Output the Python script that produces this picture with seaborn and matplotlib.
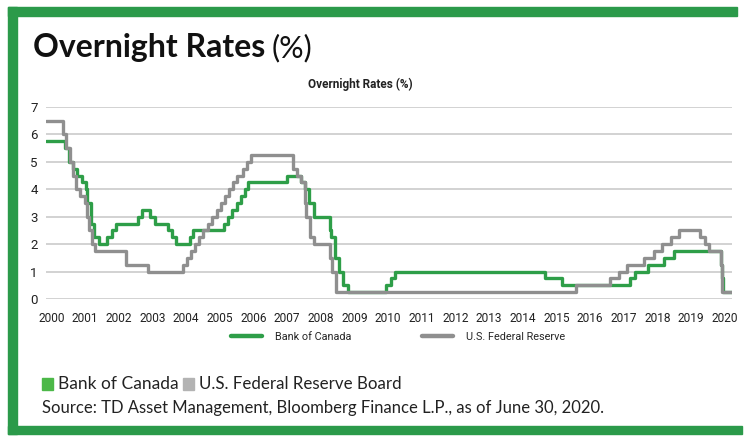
import numpy as np
import pandas as pd
import matplotlib
matplotlib.use("Agg")
import matplotlib.pyplot as plt
import seaborn as sns
from matplotlib.patches import Rectangle
from matplotlib.lines import Line2D

# ---------------- data ----------------
year_labels = [str(y) for y in range(2000, 2021)]
series_names = ["Bank of Canada", "U.S. Federal Reserve"]
end_date = "2020-06-30"

boc_dates = ["2000-06-30", "2001-01-23", "2001-03-06", "2001-04-17", "2001-05-29",
             "2001-07-17", "2001-08-28", "2001-09-17", "2001-10-23", "2001-11-27",
             "2002-01-15", "2002-04-16", "2002-06-04", "2002-07-16", "2003-03-04",
             "2003-04-15", "2003-07-15", "2003-09-03", "2004-01-20", "2004-03-02",
             "2004-04-13", "2004-09-08", "2004-10-19", "2005-09-07", "2005-10-18",
             "2005-12-06", "2006-01-24", "2006-03-07", "2006-04-25", "2006-05-24",
             "2007-07-10", "2007-12-04", "2008-01-22", "2008-03-04", "2008-04-22",
             "2008-10-08", "2008-10-21", "2008-12-09", "2009-01-20", "2009-03-03",
             "2009-04-21", "2010-06-01", "2010-07-20", "2010-09-08", "2015-01-21",
             "2015-07-15", "2017-07-12", "2017-09-06", "2018-01-17", "2018-07-11",
             "2018-10-24", "2020-03-04", "2020-03-16", "2020-03-27"]
boc_rates = [5.75, 5.5, 5.0, 4.75, 4.5,
             4.25, 4.0, 3.5, 2.75, 2.25,
             2.0, 2.25, 2.5, 2.75, 3.0,
             3.25, 3.0, 2.75, 2.5, 2.25,
             2.0, 2.25, 2.5, 2.75, 3.0,
             3.25, 3.5, 3.75, 4.0, 4.25,
             4.5, 4.25, 4.0, 3.5, 3.0,
             2.5, 2.25, 1.5, 1.0, 0.5,
             0.25, 0.5, 0.75, 1.0, 0.75,
             0.5, 0.75, 1.0, 1.25, 1.5,
             1.75, 1.25, 0.75, 0.25]

fed_dates = ["2000-06-30", "2001-01-03", "2001-01-31", "2001-03-20", "2001-04-18",
             "2001-05-15", "2001-06-27", "2001-08-21", "2001-09-17", "2001-10-02",
             "2001-11-06", "2001-12-11", "2002-11-06", "2003-06-25", "2004-06-30",
             "2004-08-10", "2004-09-21", "2004-11-10", "2004-12-14", "2005-02-02",
             "2005-03-22", "2005-05-03", "2005-06-30", "2005-08-09", "2005-09-20",
             "2005-11-01", "2005-12-13", "2006-01-31", "2006-03-28", "2006-05-10",
             "2006-06-29", "2007-09-18", "2007-10-31", "2007-12-11", "2008-01-22",
             "2008-01-30", "2008-03-18", "2008-04-30", "2008-10-08", "2008-10-29",
             "2008-12-16", "2015-12-16", "2016-12-14", "2017-03-15", "2017-06-14",
             "2017-12-13", "2018-03-21", "2018-06-13", "2018-09-26", "2018-12-19",
             "2019-07-31", "2019-09-18", "2019-10-30", "2020-03-03", "2020-03-15"]
fed_rates = [6.5, 6.0, 5.5, 5.0, 4.5,
             4.0, 3.75, 3.5, 3.0, 2.5,
             2.0, 1.75, 1.25, 1.0, 1.25,
             1.5, 1.75, 2.0, 2.25, 2.5,
             2.75, 3.0, 3.25, 3.5, 3.75,
             4.0, 4.25, 4.5, 4.75, 5.0,
             5.25, 4.75, 4.5, 4.25, 3.5,
             3.0, 2.25, 2.0, 1.5, 1.0,
             0.25, 0.5, 0.75, 1.0, 1.25,
             1.5, 1.75, 2.0, 2.25, 2.5,
             2.25, 2.0, 1.75, 1.25, 0.25]

GREEN_LINE = "#2e9e48"
GRAY_LINE = "#8f8f8f"
BORDER = "#2b9a4a"
SQ_GREEN = "#4cb848"
SQ_GRAY = "#b3b3b3"


def dec_year(s):
    d = pd.Timestamp(s)
    n = 366 if d.is_leap_year else 365
    return d.year + (d.dayofyear - 1) / n


frames = []
for name, dts, rts in [(series_names[0], boc_dates, boc_rates),
                       (series_names[1], fed_dates, fed_rates)]:
    t = [dec_year(d) for d in dts] + [dec_year(end_date)]
    r = list(rts) + [rts[-1]]
    frames.append(pd.DataFrame({"t": t, "rate": r, "series": name}))
df = pd.concat(frames, ignore_index=True)

# ---------------- style ----------------
sns.set_style("white")
plt.rcParams["font.family"] = ["Lato", "DejaVu Sans"]
NARROW = ["Roboto", "DejaVu Sans"]

W, H = 750, 446
fig = plt.figure(figsize=(W / 100, H / 100), dpi=100)
fx = lambda px: px / W
fy = lambda py: 1 - py / H

# border
for (x0, y0, x1, y1) in [(8, 7, 737, 16), (8, 7, 17, 434), (8, 426, 742, 434)]:
    fig.patches.append(Rectangle((fx(x0), fy(y1)), (x1 - x0) / W, (y1 - y0) / H,
                                 transform=fig.transFigure, color=BORDER, zorder=0))

# title
t1 = fig.text(fx(33), fy(57), "Overnight Rates", fontsize=23, fontweight="bold",
              color="#111111", va="baseline", ha="left")
fig.canvas.draw()
bb = t1.get_window_extent()
fig.text((bb.x1 + 6) / W, fy(57), "(%)", fontsize=22, fontweight="normal",
         color="#111111", va="baseline", ha="left")

# axes
ax = fig.add_axes([fx(46), fy(299), (732 - 46) / W, (299 - 107) / H])
sns.lineplot(data=df, x="t", y="rate", hue="series", hue_order=series_names,
             palette=[GREEN_LINE, GRAY_LINE], drawstyle="steps-post",
             estimator=None, linewidth=2.4, legend=False, ax=ax)
ax.set_xlim(2000.5, 2020.5)
ax.set_ylim(0, 7)
ax.set_yticks(range(0, 8))
ax.set_xticks(np.linspace(2000.66, 2020.29, len(year_labels)))
ax.set_xticklabels(year_labels)
ax.set_xlabel("")
ax.set_ylabel("")
for s in ax.spines.values():
    s.set_visible(False)
ax.grid(axis="y", color="#d2d2d2", linewidth=1.4)
ax.grid(axis="x", visible=False)
ax.set_axisbelow(True)
ax.tick_params(axis="both", length=0, colors="#222222")
ax.tick_params(axis="x", pad=9, labelsize=8.6)
ax.tick_params(axis="y", pad=6, labelsize=9.5)
for lab in ax.get_xticklabels() + ax.get_yticklabels():
    lab.set_family(NARROW)

# chart subtitle
fig.text(fx(360), fy(84), "Overnight Rates (%)", fontsize=8.5, fontweight="bold",
         color="#222222", family=NARROW, ha="center", va="center")

# in-chart legend
handles = [Line2D([], [], color=GREEN_LINE, lw=3.2),
           Line2D([], [], color=GRAY_LINE, lw=3.2)]
leg = fig.legend(handles, series_names, loc="center", ncol=2,
                 bbox_to_anchor=(fx(398), fy(337)), frameon=False,
                 prop={"family": NARROW, "size": 7.8},
                 handlelength=2.9, handletextpad=1.2, columnspacing=6.5)

# bottom legend
fig.patches.append(Rectangle((fx(42), fy(390)), 11 / W, 12 / H,
                             transform=fig.transFigure, color=SQ_GREEN))
fig.text(fx(58), fy(384), "Bank of Canada", fontsize=12.5, color="#222222", va="center")
fig.patches.append(Rectangle((fx(183), fy(390)), 11 / W, 12 / H,
                             transform=fig.transFigure, color=SQ_GRAY))
fig.text(fx(199), fy(384), "U.S. Federal Reserve Board", fontsize=12.2,
         color="#222222", va="center")
fig.text(fx(42), fy(408), "Source: TD Asset Management, Bloomberg Finance L.P., as of June 30, 2020.",
         fontsize=12, color="#222222", va="center")

fig.savefig("out.png", dpi=100)
